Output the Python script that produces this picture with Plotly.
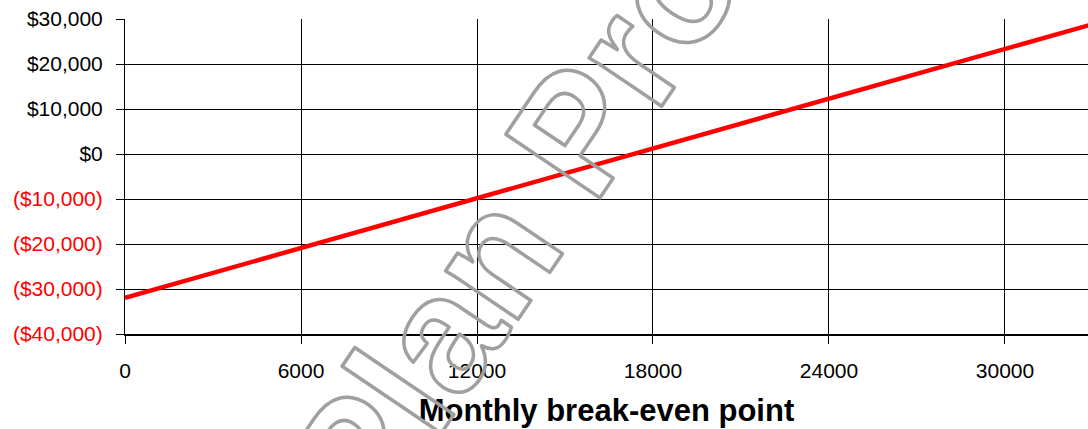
"""Monthly break-even chart rebuilt with Plotly."""

import plotly.graph_objects as go

# monthly units sold vs. profit / loss ($)
units = [0, 6000, 12000, 18000, 24000, 30000, 36000]
profit = [-31950, -20900, -9800, 1250, 12300, 23400, 34400]

y_ticks = [-40000, -30000, -20000, -10000, 0, 10000, 20000, 30000]
x_ticks = [0, 6000, 12000, 18000, 24000, 30000]
watermark = "Plan Pro"

FONT = "Arial, Liberation Sans, sans-serif"


def money(v):
    if v < 0:
        return f'<span style="color:#ff0000">(${abs(v):,})</span>'
    return f"${v:,}"


fig = go.Figure()
fig.add_trace(
    go.Scatter(
        x=units,
        y=profit,
        mode="lines",
        line=dict(color="#ff0000", width=4.5),
        hoverinfo="skip",
        showlegend=False,
    )
)

fig.update_xaxes(
    range=[0, 32830],
    tickvals=x_ticks,
    ticktext=[str(v) for v in x_ticks],
    showgrid=True,
    gridcolor="black",
    gridwidth=1,
    zeroline=False,
    showline=True,
    linecolor="black",
    linewidth=2,
    ticks="outside",
    ticklen=8,
    tickcolor="black",
    ticklabelstandoff=9,
    tickfont=dict(family=FONT, size=21, color="black"),
    title=dict(
        text="<b>Monthly break-even point</b>",
        font=dict(family=FONT, size=31, color="black"),
        standoff=18,
    ),
)
fig.update_yaxes(
    range=[-40000, 30000],
    tickvals=y_ticks,
    ticktext=[money(v) for v in y_ticks],
    showgrid=True,
    gridcolor="black",
    gridwidth=1,
    zeroline=False,
    showline=True,
    linecolor="black",
    linewidth=1,
    ticks="outside",
    ticklen=8,
    tickcolor="black",
    ticklabelstandoff=9,
    tickfont=dict(family=FONT, size=21, color="black"),
)

fig.add_annotation(
    text=f"<b>{watermark}</b>",
    xref="paper",
    yref="paper",
    x=0.403,
    y=0.345,
    xanchor="center",
    yanchor="middle",
    showarrow=False,
    textangle=-56,
    font=dict(family=FONT, size=165, color="#a0a0a0"),
)

fig.update_layout(
    width=1088,
    height=429,
    margin=dict(l=125, r=0, t=19, b=95),
    paper_bgcolor="white",
    plot_bgcolor="white",
    font=dict(family=FONT, color="black"),
)

# no page margin, and the watermark is drawn as an outline only
post = """
document.body.style.margin = '0';
document.querySelectorAll('.annotation-text').forEach(function (t) {
    t.style.fill = 'none';
    t.style.stroke = '#a0a0a0';
    t.style.strokeWidth = '3.5px';
    t.style.strokeLinejoin = 'round';
});
"""

fig.write_html("out.html", post_script=post, config={"displayModeBar": False})
